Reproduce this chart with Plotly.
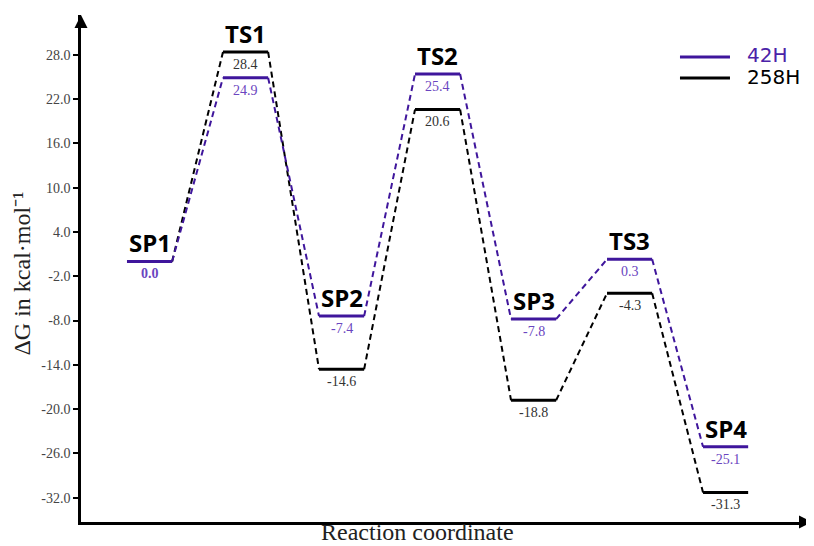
import plotly.graph_objects as go

states = ["SP1", "TS1", "SP2", "TS2", "SP3", "TS3", "SP4"]
g_42H = [0.0, 24.9, -7.4, 25.4, -7.8, 0.3, -25.1]
g_258H = [0.0, 28.4, -14.6, 20.6, -18.8, -4.3, -31.3]
tick_vals = [28, 22, 16, 10, 4, -2, -8, -14, -20, -26, -32]
series_names = ["42H", "258H"]

HALF = 0.235
PURPLE = "#3f169c"
PURPLE_TXT = "#6a45c0"
BLACK = "#000000"

def level_xy(vals):
    xs, ys = [], []
    for i, v in enumerate(vals):
        xs += [i - HALF, i + HALF, None]
        ys += [v, v, None]
    return xs, ys

def conn_xy(vals):
    xs, ys = [], []
    for i in range(len(vals) - 1):
        xs += [i + HALF, i + 1 - HALF, None]
        ys += [vals[i], vals[i + 1], None]
    return xs, ys

fig = go.Figure()
series = [(series_names[1], g_258H, BLACK), (series_names[0], g_42H, PURPLE)]
for name, vals, col in series:
    cx, cy = conn_xy(vals)
    fig.add_trace(go.Scatter(x=cx, y=cy, mode="lines",
                             line=dict(color=col, width=2, dash="6px,4px"),
                             showlegend=False, hoverinfo="skip"))
for name, vals, col in series:
    lx, ly = level_xy(vals)
    fig.add_trace(go.Scatter(x=lx, y=ly, mode="lines", name=name,
                             line=dict(color=col, width=3),
                             showlegend=False, hoverinfo="skip"))

annotations = []
for i, s in enumerate(states):
    top = max(g_42H[i], g_258H[i])
    annotations.append(dict(x=i, y=top, xref="x", yref="y", text=s, showarrow=False,
                            yanchor="bottom", yshift=0,
                            font=dict(family="Open Sans", size=24, color="#000000", weight="bold")))
for i in range(len(states)):
    if i == 0:
        annotations.append(dict(x=i, y=g_42H[i], xref="x", yref="y", text="<b>%.1f</b>" % g_42H[i],
                                showarrow=False, yanchor="top", yshift=-3,
                                font=dict(family="Liberation Serif", size=14, color=PURPLE_TXT)))
        continue
    annotations.append(dict(x=i, y=g_42H[i], xref="x", yref="y", text="%.1f" % g_42H[i],
                            showarrow=False, yanchor="top", yshift=-3,
                            font=dict(family="Liberation Serif", size=14, color=PURPLE_TXT)))
    annotations.append(dict(x=i, y=g_258H[i], xref="x", yref="y", text="%.1f" % g_258H[i],
                            showarrow=False, yanchor="top", yshift=-3,
                            font=dict(family="Liberation Serif", size=14, color="#333333")))

X0, X1 = -0.714, 6.9
Y0, Y1 = -35.3, 33.4
annotations.append(dict(x=X0, y=Y1, xref="x", yref="y", ax=0, ay=14, showarrow=True,
                        arrowhead=2, arrowsize=1.3, arrowwidth=2, arrowcolor="#000", text=""))
annotations.append(dict(x=X1, y=Y0, xref="x", yref="y", ax=-14, ay=0, showarrow=True,
                        arrowhead=2, arrowsize=1.3, arrowwidth=2, arrowcolor="#000", text=""))
annotations.append(dict(x=-0.0807, y=0.49, xref="paper", yref="paper", text="ΔG in kcal·mol⁻¹",
                        textangle=-90, showarrow=False, xanchor="center", yanchor="middle",
                        font=dict(family="Liberation Serif", size=24, color="#222222")))
annotations.append(dict(x=0.46, y=-0.0473, xref="paper", yref="paper", text="Reaction coordinate",
                        showarrow=False, xanchor="center", yanchor="bottom", borderpad=0,
                        font=dict(family="Liberation Serif", size=24, color="#222222")))

# manual legend
legend_cols = [(series_names[0], PURPLE, "#4b22a8", 0.9172, 0.921),
               (series_names[1], BLACK, "#000000", 0.8757, 0.8777)]
shapes = []
for name, lc, tc, ly, ty in legend_cols:
    shapes.append(dict(type="line", xref="paper", yref="paper", x0=0.8194, x1=0.8878,
                       y0=ly, y1=ly, line=dict(color=lc, width=3)))
    annotations.append(dict(x=0.9083, y=ty, xref="paper", yref="paper", text=name,
                            showarrow=False, xanchor="left", yanchor="middle",
                            font=dict(family="DejaVu Sans", size=20, color=tc)))

fig.update_layout(
    width=806, height=538,
    margin=dict(l=73, r=2, t=7, b=24),
    plot_bgcolor="white", paper_bgcolor="white",
    annotations=annotations, shapes=shapes, showlegend=False,
    xaxis=dict(range=[X0, X1], showgrid=False, zeroline=False, showticklabels=False,
               ticks="", showline=True, linecolor="#000", linewidth=2.5),
    yaxis=dict(range=[Y0, Y1], showgrid=False, zeroline=False, showline=True,
               linecolor="#000", linewidth=2.5, ticks="outside", ticklen=5, tickwidth=2,
               tickcolor="#000", tickvals=tick_vals, ticktext=["%.1f" % v for v in tick_vals],
               tickfont=dict(family="Liberation Serif", size=14, color="#444444")),
)

fig.write_html("out.html")
